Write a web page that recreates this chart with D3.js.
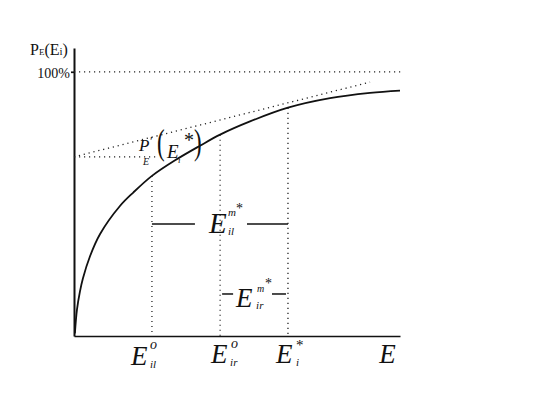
<!DOCTYPE html>
<html lang="en">
<head>
  <meta charset="UTF-8" />
  <title>P_E(E_i) curve</title>
  <script src="https://d3js.org/d3.v7.min.js"></script>
  <style>
    body { margin: 0; background: #fff; }
    .serif { font-family: "Liberation Serif", "DejaVu Serif", serif; fill: #111; }
    .it { font-style: italic; }
    .dotted { fill: none; stroke: #222; stroke-width: 1.3; stroke-dasharray: 1.2,3.8; }
    .axis path, .axis line { stroke: #111; stroke-width: 1.7; }
  </style>
</head>
<body>
  <div id="chart"></div>
  <script>
    // curve P_E(E) (E in arbitrary units, P in %)
    const curveE = [0.03, 0.1, 0.2, 0.3, 0.54, 0.88, 1.55, 2.0, 2.63, 3.41, 4.25, 4.93, 5.94, 7.22, 8.64, 9.99, 11.0];
    const curveP = [1.0, 10.0, 16.8, 21.8, 30.2, 38.6, 49.2, 54.3, 60.6, 66.5, 72.0, 76.2, 81.2, 86.4, 90.0, 92.0, 92.9];

    // marked points on the E axis
    const markerE = [2.63, 4.93, 7.22];       // E_il^o, E_ir^o, E_i^*
    const markerP = [60.6, 76.2, 86.4];       // curve value at each

    // tangent at E_i^* and its intercept
    const tangentE = [0, 9.99];
    const tangentP = [67.8, 96.1];
    const interceptEnd = 2.8;
    const fullE = 11.1;

    // levels of the two bracket annotations
    const bracketP = [42.4, 15.9];

    const width = 534, height = 418;
    const svg = d3.select("#chart").append("svg")
      .attr("width", width).attr("height", height);

    const x = d3.scaleLinear().domain([0, 11]).range([74, 400]);
    const y = d3.scaleLinear().domain([0, 109]).range([336, 48]);

    // axes
    svg.append("g").attr("class", "axis")
      .attr("transform", "translate(0,336)")
      .call(d3.axisBottom(x).tickValues([]).tickSizeOuter(0));

    const yAxis = svg.append("g").attr("class", "axis")
      .attr("transform", "translate(74,0)")
      .call(d3.axisLeft(y).tickValues([100]).tickSize(3).tickSizeOuter(0)
        .tickPadding(1).tickFormat(d => d + "%"));
    yAxis.selectAll("text").attr("class", "serif")
      .style("font-size", "14px").attr("dy", "0.4em");
    yAxis.select(".domain").style("stroke-width", 2);

    // 100% guide
    svg.append("line").attr("class", "dotted")
      .attr("x1", x(0)).attr("x2", x(fullE))
      .attr("y1", y(100)).attr("y2", y(100));

    // tangent and intercept level
    svg.append("line").attr("class", "dotted")
      .attr("x1", x(tangentE[0])).attr("y1", y(tangentP[0]))
      .attr("x2", x(tangentE[1])).attr("y2", y(tangentP[1]));
    svg.append("line").attr("class", "dotted")
      .attr("x1", x(0)).attr("x2", x(interceptEnd))
      .attr("y1", y(tangentP[0])).attr("y2", y(tangentP[0]));

    // vertical drop lines
    markerE.forEach((e, i) => {
      svg.append("line").attr("class", "dotted")
        .attr("x1", x(e)).attr("x2", x(e))
        .attr("y1", y(markerP[i])).attr("y2", y(0));
    });

    // the curve
    const pts = curveE.map((e, i) => [e, curveP[i]]);
    svg.append("path")
      .datum(pts)
      .attr("fill", "none")
      .attr("stroke", "#111")
      .attr("stroke-width", 1.8)
      .attr("d", d3.line().x(d => x(d[0])).y(d => y(d[1])).curve(d3.curveCatmullRom.alpha(0.5)));

    // bracket dashes
    function dash(x1, x2, p) {
      svg.append("line").attr("stroke", "#111").attr("stroke-width", 1.5)
        .attr("x1", x1).attr("x2", x2).attr("y1", y(p)).attr("y2", y(p));
    }
    dash(x(markerE[0]), x(markerE[0]) + 43, bracketP[0]);
    dash(x(markerE[2]) - 41, x(markerE[2]), bracketP[0]);
    dash(x(markerE[1]) + 2, x(markerE[1]) + 13, bracketP[1]);
    dash(x(markerE[2]) - 16, x(markerE[2]) - 2, bracketP[1]);

    // text helper
    function txt(s, px, py, size, italic, anchor) {
      return svg.append("text")
        .attr("class", "serif" + (italic ? " it" : ""))
        .attr("x", px).attr("y", py)
        .attr("text-anchor", anchor || "start")
        .style("font-size", size + "px")
        .text(s);
    }
    // tall thin parenthesis
    function paren(s, px, py) {
      svg.append("text").attr("class", "serif")
        .attr("transform", `translate(${px},${py}) scale(1,1.55)`)
        .style("font-size", "23px")
        .text(s);
    }

    // y axis title P_E(E_i)
    const yt = svg.append("text").attr("class", "serif")
      .attr("x", 30).attr("y", 55).style("font-size", "16px");
    yt.append("tspan").text("P");
    yt.append("tspan").style("font-size", "9px").text("E");
    yt.append("tspan").text("(E");
    yt.append("tspan").style("font-size", "11px").text("i");
    yt.append("tspan").text(")");

    // P'_E(E_i*)
    txt("P", 139, 151, 17, true);
    txt("\u2032", 150, 145, 13, false);
    txt("E", 143, 165, 10, true);
    paren("(", 157, 154);
    txt("E", 167, 158, 19, true);
    txt("i", 178, 163, 9, true);
    txt("*", 184, 147, 20, false);
    paren(")", 194, 154);

    // bottom labels
    const xm = markerE.map(x);
    txt("E", xm[0] - 21, 365, 27, true);
    txt("o", xm[0] - 2, 349, 14, true);
    txt("il", xm[0] - 2, 368, 11, true);

    txt("E", xm[1] - 9, 363, 27, true);
    txt("o", xm[1] + 11, 348, 14, true);
    txt("ir", xm[1] + 10, 366, 11, true);

    txt("E", xm[2] - 12, 363, 27, true);
    txt("*", xm[2] + 8, 350, 15, false);
    txt("i", xm[2] + 8, 366, 11, true);

    txt("E", x(10.3), 363, 27, true);

    // E_il^m*
    const ly = y(bracketP[0]);
    txt("E", xm[0] + 57, ly + 9, 29, true);
    txt("m", xm[0] + 76, ly - 8, 11, true);
    txt("*", xm[0] + 84, ly - 11, 14, false);
    txt("il", xm[0] + 76, ly + 11, 11, true);

    // E_ir^m*
    const ly2 = y(bracketP[1]);
    txt("E", xm[1] + 16, ly2 + 13, 27, true);
    txt("m", xm[1] + 37, ly2 - 2, 10, true);
    txt("*", xm[1] + 45, ly2 - 6, 14, false);
    txt("ir", xm[1] + 36, ly2 + 15, 11, true);
  </script>
</body>
</html>
